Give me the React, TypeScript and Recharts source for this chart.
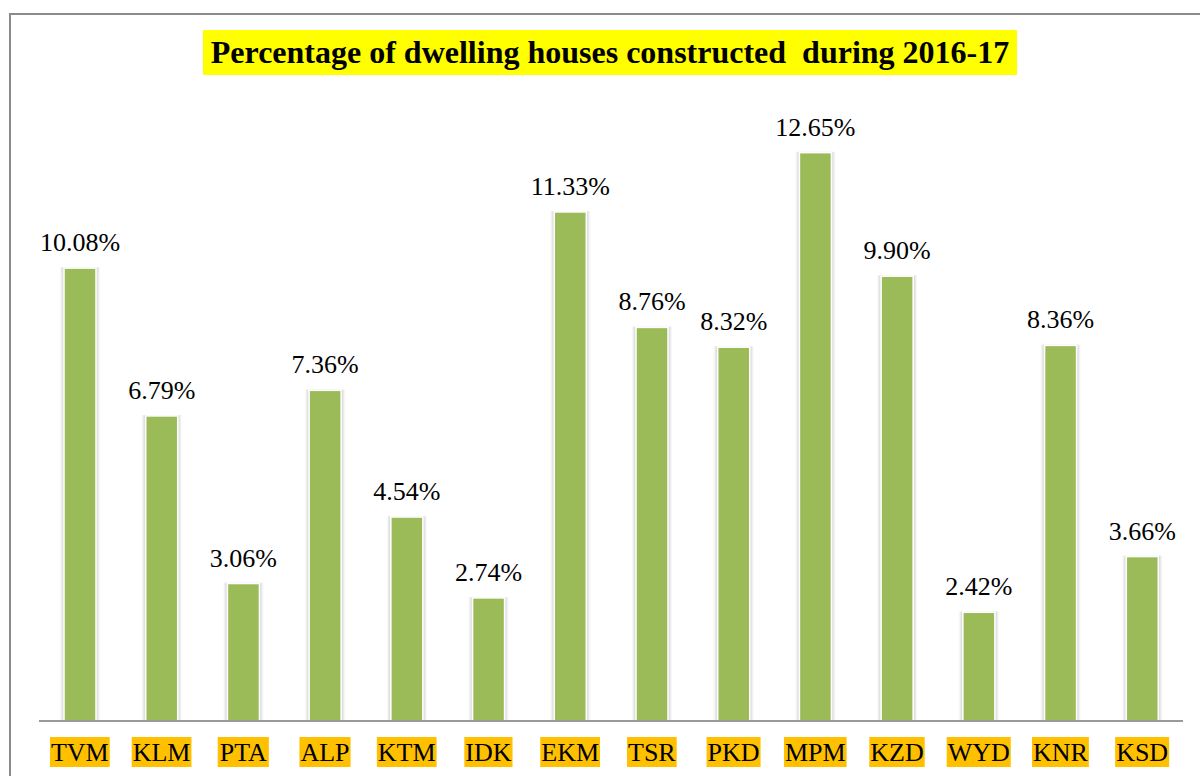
import React from 'react';
import { BarChart, Bar, XAxis, YAxis, LabelList } from 'recharts';

const districts = ['TVM', 'KLM', 'PTA', 'ALP', 'KTM', 'IDK', 'EKM', 'TSR', 'PKD', 'MPM', 'KZD', 'WYD', 'KNR', 'KSD'];
const percentages = [10.08, 6.79, 3.06, 7.36, 4.54, 2.74, 11.33, 8.76, 8.32, 12.65, 9.9, 2.42, 8.36, 3.66];
const titleText = 'Percentage of dwelling houses constructed  during 2016-17';

const data = districts.map((d, i) => ({ name: d, value: percentages[i] }));

const FONT = '"Liberation Serif", "Times New Roman", serif';

// Times advance widths per 1000 em
const W: Record<string, number> = {
  A: 722, B: 667, C: 667, D: 722, E: 611, F: 556, G: 722, H: 722, I: 333, J: 389, K: 722, L: 611, M: 889,
  N: 722, O: 722, P: 556, Q: 722, R: 667, S: 556, T: 611, U: 722, V: 722, W: 944, X: 722, Y: 722, Z: 611,
};

const TICK_FS = 26;

const Tick = (props: any) => {
  const { x, y, payload } = props;
  const label: string = payload.value;
  const w = label.split('').reduce((s, c) => s + (W[c] || 600), 0) * TICK_FS / 1000 + 2;
  return (
    <g>
      <rect x={x - w / 2} y={y + 16} width={w} height={30} fill="#FFC000" />
      <text x={x} y={y + 40} textAnchor="middle" fontFamily="serif" fontSize={TICK_FS} fill="#000">
        {label}
      </text>
    </g>
  );
};

const BarShape = (props: any) => {
  const { x, y, width, height } = props;
  if (height <= 0) return null;
  return (
    <g>
      <rect x={x - 4} y={y - 1} width={width + 8} height={height + 1} fill="#000" opacity={0.03} />
      <rect x={x - 3} y={y - 1} width={width + 6} height={height + 1} fill="#000" opacity={0.04} />
      <rect x={x - 2} y={y - 0.5} width={width + 4} height={height + 0.5} fill="#000" opacity={0.06} />
      <rect x={x} y={y} width={width} height={height} fill="#9BBB59" stroke="#ffffff" strokeWidth={1.5} />
    </g>
  );
};

const ValueLabel = (props: any) => {
  const { x, y, width, value } = props;
  return (
    <text x={x + width / 2} y={y - 17} textAnchor="middle" fontFamily="Times New Roman" fontSize={26} fill="#000">
      {Number(value).toFixed(2)}%
    </text>
  );
};

export default function App() {
  return (
    <div
      style={{
        position: 'absolute',
        left: 0,
        top: 0,
        width: 1200,
        height: 776,
        overflow: 'hidden',
        background: '#fff',
      }}
    >
      <div
        style={{
          position: 'absolute',
          left: 9,
          top: 13,
          width: 1250,
          height: 800,
          borderLeft: '2px solid #8a8a8a',
          borderTop: '2px solid #8a8a8a',
        }}
      />
      <div
        style={{
          position: 'absolute',
          left: 203,
          top: 30,
          width: 814,
          height: 45,
          background: '#FFFF00',
          fontFamily: FONT,
          fontWeight: 'bold',
          fontSize: 32,
          lineHeight: '45px',
          textAlign: 'center',
          whiteSpace: 'pre',
          color: '#000',
        }}
      >
        {titleText}
      </div>
      <div style={{ position: 'absolute', left: 0, top: 0 }}>
        <BarChart
          width={1200}
          height={776}
          data={data}
          margin={{ top: 92, right: 17, bottom: 0, left: 39 }}
          barCategoryGap={0}
        >
          <XAxis
            dataKey="name"
            axisLine={{ stroke: '#999999', strokeWidth: 2 }}
            tickLine={false}
            tickSize={0}
            tickMargin={0}
            interval={0}
            tick={<Tick />}
            height={55}
          />
          <YAxis hide domain={[0, 14]} />
          <Bar dataKey="value" barSize={32} shape={<BarShape />} isAnimationActive={false}>
            <LabelList dataKey="value" content={<ValueLabel />} />
          </Bar>
        </BarChart>
      </div>
    </div>
  );
}
